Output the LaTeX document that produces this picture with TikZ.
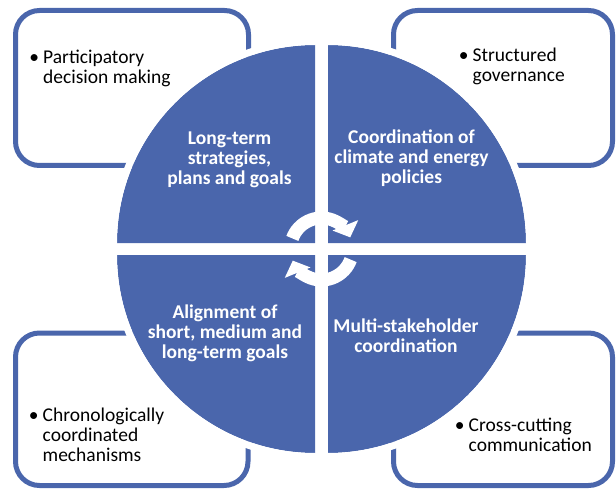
\documentclass[tikz,border=0pt]{standalone}
\usepackage{fontspec}
\setmainfont{Carlito}
\usetikzlibrary{arrows.meta}
\definecolor{qblue}{RGB}{74,102,172}
\newcommand\qlines[1]{\begin{tabular}[t]{@{}c@{}}#1\end{tabular}}
\newcommand\blines[1]{\makebox[0pt][c]{\textbullet}\hspace{9pt}\begin{tabular}[t]{@{}l@{}}#1\end{tabular}}
\begin{document}
\begin{tikzpicture}[x=1pt,y=1pt,
  infobox/.style={draw=qblue, line width=5pt, fill=white, rounded corners=24pt},
  quad/.style={fill=qblue},
  ring/.style={draw=white, line width=7pt},
  qtext/.style={text=white, font=\fontsize{19.5}{20}\selectfont\bfseries, anchor=base, inner sep=0pt},
  btext/.style={text=black, font=\fontsize{19.5}{20}\selectfont, anchor=base west, inner sep=0pt},
  cycarrow/.style={draw=white, line width=13pt, -{Triangle[length=13pt,width=27pt]}}]
\useasboundingbox (0,0) rectangle (616,491);
% corner boxes
\draw[infobox] (15.5,325.5) rectangle (248.5,480.5);
\draw[infobox] (393.5,325.5) rectangle (612.5,480.5);
\draw[infobox] (15.5,5.5) rectangle (248,158);
\draw[infobox] (393.5,5.5) rectangle (612.5,158);
% quadrants
\coordinate (ctl) at (315,248);
\coordinate (ctr) at (328,248);
\coordinate (cbl) at (315,236);
\coordinate (cbr) at (328,236);
\fill[quad] (ctl) -- ++(-198,0) arc[start angle=180,end angle=90,radius=198] -- cycle;
\fill[quad] (ctr) -- ++(0,198) arc[start angle=90,end angle=0,radius=198] -- cycle;
\fill[quad] (cbl) -- ++(0,-198) arc[start angle=270,end angle=180,radius=198] -- cycle;
\fill[quad] (cbr) -- ++(198,0) arc[start angle=0,end angle=-90,radius=198] -- cycle;
\draw[ring] ([shift={(180:201.5)}]ctl) arc[start angle=180,end angle=90,radius=201.5];
\draw[ring] ([shift={(90:201.5)}]ctr) arc[start angle=90,end angle=0,radius=201.5];
\draw[ring] ([shift={(270:201.5)}]cbl) arc[start angle=270,end angle=180,radius=201.5];
\draw[ring] ([shift={(0:201.5)}]cbr) arc[start angle=0,end angle=-90,radius=201.5];
% quadrant texts
\node[qtext] (qtl) at (229.5,346.7) {\qlines{Long-term\\strategies,\\plans and goals}};
\node[qtext] (qtr) at (411.5,347.7) {\qlines{Coordination of\\climate and energy\\policies}};
\node[qtext] (qbl) at (225,172.7) {\qlines{Alignment of\\short, medium and\\long-term goals}};
\node[qtext] (qbr) at (406,158.3) {\qlines{Multi-stakeholder\\coordination}};
% box texts (anchored at the bullet centre)
\node[btext] (btl) at (34,427.7) {\blines{Participatory\\decision making}};
\node[btext] (btr) at (463.5,429) {\blines{Structured\\governance}};
\node[btext] (bbl) at (33.5,70) {\blines{Chronologically\\coordinated\\mechanisms}};
\node[btext] (bbr) at (459.5,59.3) {\blines{Cross-cutting\\communication}};
% circular arrows
\coordinate (cyc) at (321.5,242);
\draw[cycarrow] ([shift={(160:31)}]cyc) arc[start angle=160,end angle=22,radius=31];
\draw[cycarrow] ([shift={(-20:31)}]cyc) arc[start angle=-20,end angle=-158,radius=31];
\end{tikzpicture}
\end{document}
